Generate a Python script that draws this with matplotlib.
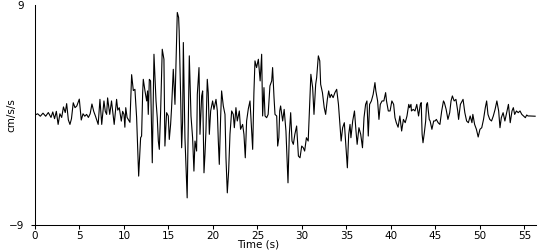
import matplotlib
matplotlib.use("Agg")
import matplotlib.pyplot as plt

# time (s) and ground acceleration (cm/s/s)
time_s = [
    0.0, 0.3, 0.6, 0.9, 1.2, 1.5, 1.8, 2.0, 2.2, 2.4, 2.6, 2.8, 3.0, 3.2, 3.4,
    3.56, 3.75, 3.93, 4.1, 4.3, 4.5, 4.7, 4.98, 5.2, 5.4, 5.6, 5.8, 6.0, 6.2,
    6.4, 6.6, 6.8, 7.1, 7.3, 7.5, 7.75, 7.9, 8.05, 8.16, 8.4, 8.6, 8.75, 8.9,
    9.17, 9.3, 9.47, 9.7, 9.85, 10.0, 10.1, 10.2, 10.35, 10.67, 10.86, 11.05,
    11.23, 11.42, 11.65, 11.8, 11.87, 11.98, 12.1, 12.17, 12.36, 12.55, 12.65,
    12.73, 12.85, 12.99, 13.18, 13.37, 13.6, 13.74, 13.86, 13.97, 14.12, 14.3,
    14.49, 14.6, 14.79, 14.98, 15.09, 15.24, 15.35, 15.54, 15.73, 15.99, 16.14,
    16.2, 16.37, 16.48, 16.59, 16.67, 16.85, 17.1, 17.34, 17.53, 17.71, 17.86,
    17.98, 18.16, 18.24, 18.43, 18.54, 18.73, 18.84, 18.99, 19.1, 19.21, 19.36,
    19.47, 19.59, 19.74, 19.96, 20.11, 20.34, 20.49, 20.6, 20.71, 20.86, 20.97,
    21.16, 21.35, 21.46, 21.61, 21.76, 21.91, 22.1, 22.28, 22.4, 22.58, 22.73,
    22.96, 23.1, 23.33, 23.48, 23.63, 23.78, 23.97, 24.16, 24.46, 24.6, 24.72,
    24.9, 25.1, 25.3, 25.47, 25.58, 25.73, 25.85, 26.03, 26.2, 26.4, 26.6,
    26.7, 26.86, 26.97, 27.16, 27.27, 27.4, 27.5, 27.6, 27.83, 28.0, 28.2,
    28.35, 28.43, 28.58, 28.73, 28.88, 29.03, 29.2, 29.4, 29.6, 29.78, 29.97,
    30.15, 30.3, 30.5, 30.7, 30.9, 31.0, 31.2, 31.35, 31.54, 31.65, 31.84,
    32.0, 32.1, 32.3, 32.5, 32.66, 32.85, 33.0, 33.15, 33.3, 33.5, 33.7, 33.9,
    34.1, 34.27, 34.4, 34.57, 34.76, 34.95, 35.1, 35.25, 35.4, 35.5, 35.7,
    35.9, 36.07, 36.2, 36.4, 36.6, 36.8, 36.97, 37.15, 37.3, 37.45, 37.6,
    37.8, 38.0, 38.2, 38.3, 38.5, 38.65, 38.8, 39.0, 39.2, 39.4, 39.5, 39.7,
    39.9, 40.1, 40.3, 40.45, 40.6, 40.8, 41.0, 41.2, 41.4, 41.6, 41.8, 42.0,
    42.1, 42.25, 42.3, 42.5, 42.7, 42.9, 43.1, 43.3, 43.4, 43.5, 43.6, 43.75,
    43.9, 44.0, 44.1, 44.3, 44.4, 44.6, 44.8, 44.95, 45.1, 45.3, 45.5, 45.7,
    45.9, 46.0, 46.2, 46.4, 46.6, 46.75, 46.9, 47.1, 47.3, 47.5, 47.6, 47.8,
    48.0, 48.1, 48.3, 48.5, 48.7, 48.9, 49.1, 49.2, 49.4, 49.6, 49.8, 50.0,
    50.2, 50.4, 50.6, 50.75, 50.9, 51.1, 51.3, 51.5, 51.7, 51.9, 52.1, 52.25,
    52.4, 52.6, 52.8, 53.0, 53.2, 53.4, 53.6, 53.75, 53.9, 54.1, 54.3, 54.5,
    54.7, 54.9, 55.1, 55.25, 55.4, 55.6, 56.2,
]
accel = [
    0.0, 0.1, -0.1, 0.15, -0.1, 0.2, -0.2, 0.25, -0.3, 0.3, -0.77, 0.1, -0.2, 0.66, 0.2,
    0.93, -0.4, -0.77, -0.3, 1.0, 0.6, 0.74, 1.3, -0.41, 0.1, -0.1, 0.05, -0.2, 0.1,
    0.9, 0.3, -0.1, -0.77, 1.28, -0.77, 1.15, 0.3, 0.05, 1.4, 0.05, 1.15, 0.2, -0.77,
    1.28, 0.4, 0.6, -0.5, 0.3, 0.05, -1.0, 0.6, -0.2, -0.6, 3.3, 2.0,
    2.1, -0.2, -5.0, -2.95, -1.86, -1.72, 1.83, 2.92, 1.97, 1.15, 1.97,
    0.05, 2.92, 2.79, -3.91, 4.97, 1.15, -0.22, -2.13, -2.81, 0.33, 5.38,
    4.56, -2.54, 0.19, -0.08, -2.0, -0.77, 0.6, 3.74, 0.87, 8.39, 7.98,
    6.89, 1.42, -2.68, -0.49, 5.93, -1.86, -6.78, 4.84, -0.08, -1.86, -4.59,
    -2.13, -2.95, 1.69, 3.88, -1.58, 1.56, 1.97, -4.73, -3.22, -1.31, 2.92,
    1.83, -1.58, 0.33, 1.15, 0.46, 1.28, 0.33, -2.13, -4.04, -0.22, 1.97,
    0.74, 0.05, -3.5, -6.37, -4.59, -1.58, 0.33, 0.05, -1.04, 0.6, -0.49,
    0.33, -1.17, -0.77, -1.58, -3.5, -0.49, 0.5, 1.15, -2.81, 1.83, 4.43,
    3.88, 4.56, 2.79, 4.97, -0.08, 2.24, -0.08, -0.22, 0.05, 2.38, 2.79,
    3.88, 1.42, 0.05, -0.08, -2.54, -1.86, 0.33, 0.74, -0.49, 0.46, -1.31,
    -4.04, -5.55, -1.58, 0.19, -2.13, -2.4, -1.58, -0.9, -3.36, -3.5, -2.54,
    -2.68, -2.95, -1.86, -2.13, 1.42, 3.33, 2.24, 0.05, 2.51, 3.06, 4.84,
    4.43, 2.51, 1.83, 0.6, 0.05, 1.28, 1.97, 1.42, 1.69, 1.42, 1.83, 2.1,
    0.87, -0.77, -2.13, -1.04, -0.63, -2.68, -4.32, -1.58, -0.77, -1.86, -0.49,
    0.33, -1.31, -2.4, -1.04, -1.58, -2.68, -0.22, 0.87, 1.15, -1.72, 0.87,
    1.15, 1.69, 2.65, 1.97, 1.15, -0.36, 0.87, 1.15, 1.15, 1.83, 1.15, 0.33,
    0.33, 1.15, 0.87, -0.22, -0.63, -1.0, -0.08, -1.31, -0.36, -0.63, -0.08, 0.87,
    0.6, 0.87, 0.33, 0.46, 0.33, 0.87, -0.08, 0.87, 1.01, -1.58, -2.27, -1.45,
    -0.49, 0.87, 1.01, -0.36, -0.49, -1.17, -0.49, -0.49, -0.36, -0.63, -0.77, 0.33,
    1.15, 1.01, 0.46, -0.36, 0.19, 1.15, 1.56, 1.15, 1.28, 0.33, -0.36, 0.87,
    1.15, 1.28, 0.19, -0.49, -0.63, -0.08, -0.63, 0.05, -0.77, -1.17, -1.8, -1.17,
    -1.04, -0.36, 0.6, 1.15, 0.05, -0.36, -0.49, -0.08, 0.46, 1.15, 0.33, -1.04,
    -0.22, 0.19, -0.49, 0.19, 0.87, -0.63, 0.33, 0.6, 0.05, 0.33, 0.19, 0.33,
    0.05, -0.08, -0.22, 0.0, -0.08, -0.08, -0.1,
]
y_ticks = [-9, 9]
x_ticks = list(range(0, 60, 5))

plt.rcParams['font.family'] = ['DejaVu Sans']
plt.rcParams['font.size'] = 7.5

fig = plt.figure(figsize=(5.5, 2.5), dpi=100)
ax = fig.add_axes([0.0636, 0.1, 0.911, 0.88])

ax.plot(time_s, accel, color='black', linewidth=0.8)

ax.set_xlim(0, 56.3)
ax.set_ylim(-9, 9)
ax.set_xticks(x_ticks)
ax.set_yticks(y_ticks)
ax.tick_params(axis='x', length=3, width=0.75, pad=1)
ax.tick_params(axis='y', length=3, width=0.75, pad=5)
ax.yaxis.get_major_ticks()[1].tick1line.set_visible(False)

for side in ['top', 'right']:
    ax.spines[side].set_visible(False)
for side in ['left', 'bottom']:
    ax.spines[side].set_linewidth(0.75)

ax.set_xlabel('Time (s)')
ax.xaxis.set_label_coords(0.445, -0.068)
ax.set_ylabel('cm/s/s')
ax.yaxis.set_label_coords(-0.038, 0.5)

fig.savefig('out.png', dpi=100)
